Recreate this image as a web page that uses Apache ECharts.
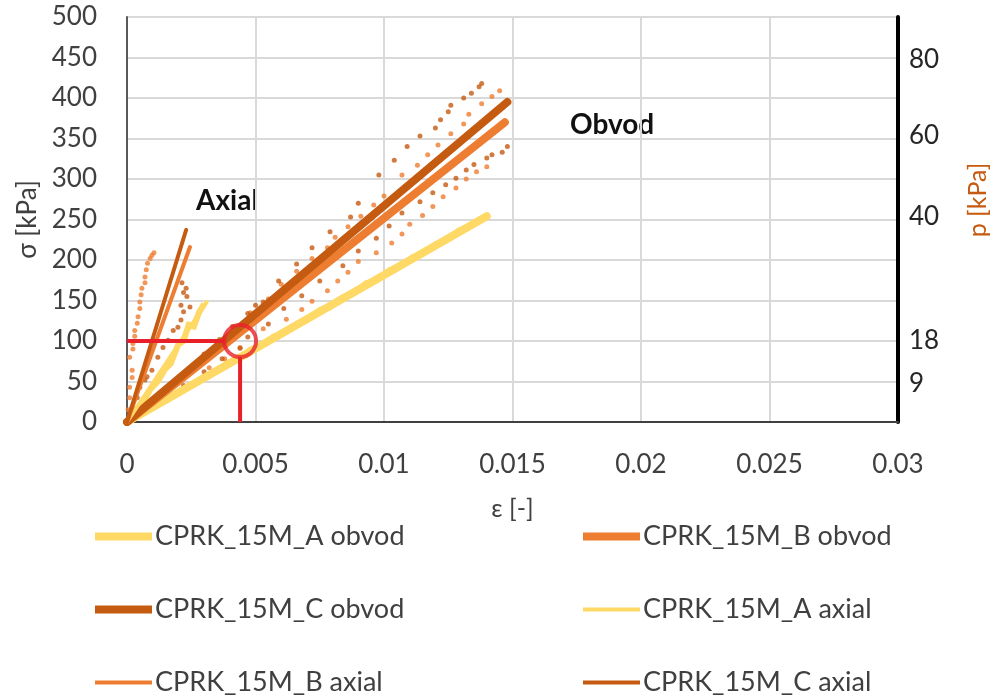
<!DOCTYPE html>
<html>
<head>
<meta charset="utf-8">
<title>CPRK_15M</title>
<script src="https://cdn.jsdelivr.net/npm/echarts@6.0.0/dist/echarts.min.js"></script>
<style>
html,body{margin:0;padding:0;background:#fff;}
#main{width:998px;height:700px;}
</style>
</head>
<body>
<div id="main"></div>
<script>
// barvy vzorku A, B, C
var colA = '#FFD966', colB = '#ED7D31', colC = '#C55A11'

// osy
var xTicks = [0, 0.005, 0.01, 0.015, 0.02, 0.025, 0.03]
var pTickPos = [48, 101, 253, 354, 447]   // kde lezi popisky p na ose sigma
var pTickLabels = ['9', '18', '40', '60', '80']

// trendove primky (obvod / axial)
var trendAObvod = [[0, 0], [0.0140, 254]]
var trendBObvod = [[0, 0], [0.0147, 370]]
var trendCObvod = [[0, 0], [0.0148, 395]]
var trendAAxial = [[0, 0], [0.0031, 148]]
var trendBAxial = [[0, 0], [0.00245, 216]]
var trendCAxial = [[0, 0], [0.0023, 237]]

// namerena data - obvod
var dataAObvod = [[0,0],[0.0004,9],[0.0008,13],[0.0012,24],[0.0016,27],[0.0021,40],[0.0025,44],[0.0030,57],[0.0034,60],[0.0039,74],[0.0043,76],[0.0048,90],[0.0052,93],[0.0057,106],[0.0061,109],[0.0066,122],[0.0070,125],[0.0075,139],[0.0079,141],[0.0084,155],[0.0088,158],[0.0093,172],[0.0097,174],[0.0102,188],[0.0106,191],[0.0111,204],[0.0115,207],[0.0120,220],[0.0124,223],[0.0129,237],[0.0133,240],[0.0137,250],[0.0140,256]]
var dataBObvod = [[0.0035,98],[0.0042,118],[0.0048,135],[0.0055,152],[0.0060,170],[0.0066,186],[0.0072,202],[0.0078,215],[0.0081,228],[0.0086,241],[0.0091,254],[0.0096,268],[0.0100,279],[0.0107,305],[0.0113,317],[0.0117,330],[0.0121,342],[0.0126,356],[0.0131,368],[0.0133,380],[0.0138,393],[0.0142,402],[0.0145,409],
  [0.0032,67],[0.0038,78],[0.0044,92],[0.0053,115],[0.0062,127],[0.0068,139],[0.0072,149],[0.0078,162],[0.0082,174],[0.0086,185],[0.0090,198],[0.0097,209],[0.0103,221],[0.0107,232],[0.0110,244],[0.0115,255],[0.0119,266],[0.0123,278],[0.0128,289],[0.0132,300],[0.0136,309],[0.0140,315]]
var dataCObvod = [[0.0006,15],[0.0012,30],[0.0018,48],[0.0024,66],[0.0030,84],[0.0036,102],[0.0041,118],[0.0047,134],[0.0050,144],[0.0053,148],[0.0059,174],[0.0066,195],[0.0072,215],[0.0079,235],[0.0087,253],[0.0090,270],[0.0098,305],[0.0104,323],[0.0109,340],[0.0114,353],[0.0120,363],[0.0122,373],[0.0125,383],[0.0126,391],[0.0131,400],[0.0134,406],[0.0137,414],[0.0138,418],
  [0.0015,28],[0.0022,45],[0.0030,62],[0.0037,78],[0.0044,91],[0.0047,105],[0.0055,121],[0.0061,140],[0.0068,156],[0.0075,174],[0.0084,193],[0.0090,211],[0.0097,227],[0.0102,242],[0.0107,258],[0.0114,272],[0.0119,283],[0.0124,293],[0.0128,301],[0.0132,311],[0.0135,318],[0.0140,326],[0.0142,330],[0.0146,333],[0.0148,340]]

// namerena data - axial
var dataAAxial = [[0,0],[0.0003,14],[0.0006,22],[0.0009,40],[0.0012,50],[0.0015,66],[0.0017,72],[0.0020,96],[0.0022,100],[0.0024,120],[0.0026,118],[0.0028,135],[0.0030,146]]
var dataBAxial = [[0.00004,15],[0.0001,30],[0.0001,43],[0.0002,55],[0.0002,64],[0.0001,80],[0.00023,90],[0.00023,97],[0.0003,106],[0.0003,113],[0.0004,122],[0.00043,130],[0.0005,140],[0.0005,148],[0.00055,157],[0.00058,165],[0.0007,172],[0.0007,179],[0.00075,188],[0.0008,196],[0.0009,202],[0.00097,206],[0.00105,209]]
var dataCAxial = [[0.0002,18],[0.0004,30],[0.0005,43],[0.0007,52],[0.00078,56],[0.00097,64],[0.0012,80],[0.0014,92],[0.0016,101],[0.0018,113],[0.00198,117],[0.0021,126],[0.0022,136],[0.0021,144],[0.00245,142],[0.00233,155],[0.0022,160],[0.00214,172],[0.0023,165]]

// cteni hodnoty (cervene)
var readPoint = [0.0044, 100]
var readHoriz = [[0, 100], [0.00378, 100]]
var readVert = [[0.0044, 0], [0.0044, 80]]

var legendLeft = ['CPRK_15M_A obvod', 'CPRK_15M_C obvod', 'CPRK_15M_B axial']
var legendRight = ['CPRK_15M_B obvod', 'CPRK_15M_A axial', 'CPRK_15M_C axial']

var font = 'Lato, "Open Sans", sans-serif'
var thick = 'path://M0,0H57V8H0Z'
var thin = 'path://M0,0H57V4H0Z'

function legendItem(name){
	return {name: name, icon: name.indexOf('obvod') > -1 ? thick : thin}
}

function trend(name, data, color, width){
	return {name: name, type: 'line', data: data, symbol: 'none', z: 5,
		lineStyle: {color: color, width: width, cap: 'round'}, itemStyle: {color: color}}
}
function dots(name, data, color){
	return {name: name, type: 'scatter', data: data, symbolSize: 5, z: 3,
		itemStyle: {color: color}}
}
function band(name, data, color, width){
	return {name: name, type: 'line', data: data, symbol: 'none', z: 2,
		lineStyle: {color: color, width: width, join: 'miter'}, itemStyle: {color: color}}
}

var myChart = echarts.init(document.getElementById('main'))
myChart.setOption({
	animation: false,
	textStyle: {fontFamily: font},
	grid: {left: 127, right: 100, top: 17, bottom: 278},
	legend: [{
		orient: 'vertical', left: 95, top: 523, padding: 0, itemWidth: 57, itemHeight: 8, itemGap: 46,
		data: legendLeft.map(legendItem),
		textStyle: {fontSize: 27, color: '#404040', fontFamily: font, padding: [0, 0, 0, -2]}
	}, {
		orient: 'vertical', left: 583, top: 523, padding: 0, itemWidth: 57, itemHeight: 8, itemGap: 46,
		data: legendRight.map(legendItem),
		textStyle: {fontSize: 27, color: '#404040', fontFamily: font, padding: [0, 0, 0, -2]}
	}],
	xAxis: {
		type: 'value', min: 0, max: 0.03, interval: 0.005,
		name: 'ε [-]', nameLocation: 'middle', nameGap: 74,
		nameTextStyle: {fontSize: 25, color: '#404040'},
		axisLine: {lineStyle: {color: '#404040', width: 2}},
		axisTick: {show: false},
		axisLabel: {fontSize: 26, color: '#404040', margin: 30,
			formatter: function(v){ return xTicks.indexOf(+v.toFixed(3)) > -1 ? String(+v.toFixed(3)) : '' }},
		splitLine: {lineStyle: {color: '#D9D9D9', width: 2}}
	},
	yAxis: [{
		type: 'value', min: 0, max: 500, interval: 50,
		name: 'σ [kPa]', nameLocation: 'middle', nameGap: 84, nameRotate: 90,
		nameTextStyle: {fontSize: 26, color: '#404040'},
		axisLine: {show: true, lineStyle: {color: '#595959', width: 2}},
		axisTick: {show: false},
		axisLabel: {fontSize: 26, color: '#404040', margin: 30},
		splitLine: {lineStyle: {color: '#D9D9D9', width: 2}}
	}, {
		type: 'value', min: 0, max: 500, position: 'right',
		axisLine: {show: true, onZero: false, lineStyle: {color: '#000', width: 4}},
		axisTick: {show: false},
		splitLine: {show: false},
		axisLabel: {fontSize: 26, color: '#262626', margin: 11,
			customValues: pTickPos,
			formatter: function(v){ var i = pTickPos.indexOf(v); return i > -1 ? pTickLabels[i] : '' }}
	}],
	graphic: [
		{type: 'text', left: 196, top: 187, style: {text: 'Axial', font: 'bold 28px ' + font, fill: '#111'}},
		{type: 'text', left: 570, top: 111, style: {text: 'Obvod', font: 'bold 28px ' + font, fill: '#111'}},
		{type: 'text', x: 978, y: 200, rotation: Math.PI / 2,
			style: {text: 'p [kPa]', font: '25px ' + font, fill: colC, align: 'center', verticalAlign: 'middle'}}
	],
	series: [
		band('A obvod data', dataAObvod, colA, 5),
		dots('B obvod data', dataBObvod, colB),
		dots('C obvod data', dataCObvod, colC),
		band('A axial data', dataAAxial, colA, 6),
		dots('B axial data', dataBAxial, colB),
		dots('C axial data', dataCAxial, colC),
		trend('CPRK_15M_A obvod', trendAObvod, colA, 8),
		trend('CPRK_15M_B obvod', trendBObvod, colB, 8),
		trend('CPRK_15M_C obvod', trendCObvod, colC, 8),
		trend('CPRK_15M_A axial', trendAAxial, colA, 4),
		trend('CPRK_15M_B axial', trendBAxial, colB, 4),
		trend('CPRK_15M_C axial', trendCAxial, colC, 4),
		{type: 'line', data: readHoriz, symbol: 'none', z: 8, lineStyle: {color: '#E8202A', width: 4}},
		{type: 'line', data: readVert, symbol: 'none', z: 8, lineStyle: {color: '#E8202A', width: 4}},
		{type: 'scatter', data: [readPoint], symbolSize: 32, z: 8,
			itemStyle: {color: 'rgba(0,0,0,0)', borderColor: '#E8202A', borderWidth: 4}}
	]
})
</script>
</body>
</html>
